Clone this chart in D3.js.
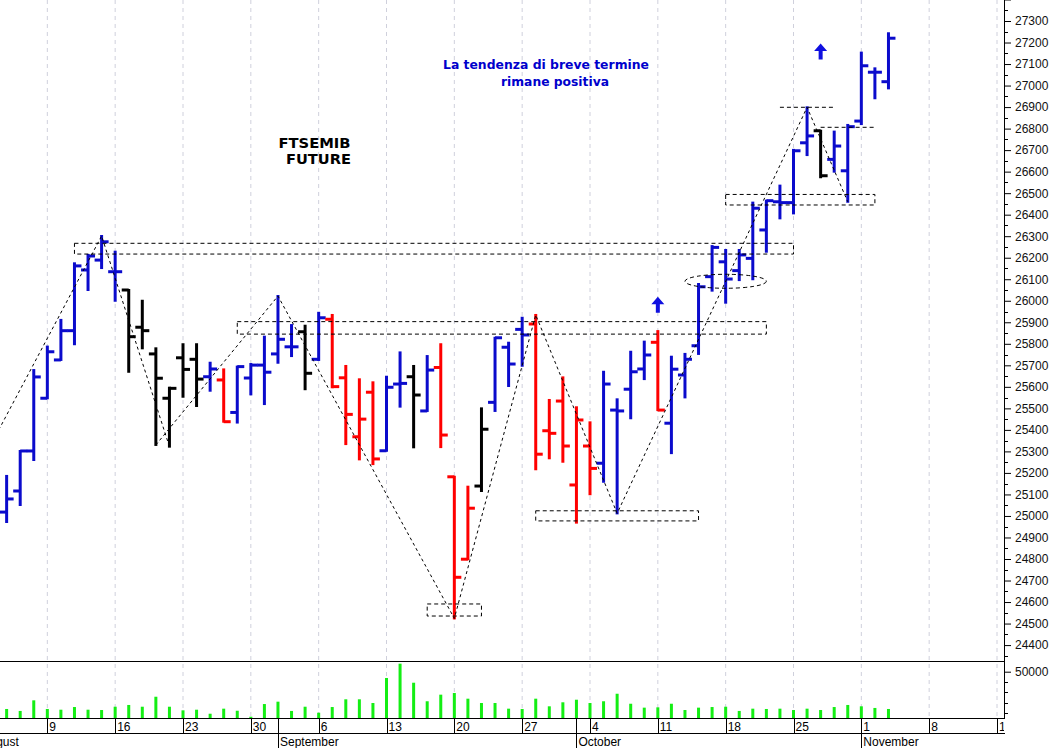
<!DOCTYPE html>
<html><head><meta charset="utf-8">
<script src="https://cdn.jsdelivr.net/npm/d3@7/dist/d3.min.js"></script>
<style>body{margin:0;background:#fff}svg{display:block}</style>
</head><body>
<svg id="c" width="1052" height="748"></svg>
<script>
// ---------------- DATA ----------------
const dates = [
"2021-08-04","2021-08-05","2021-08-06","2021-08-09","2021-08-10","2021-08-11","2021-08-12","2021-08-13",
"2021-08-16","2021-08-17","2021-08-18","2021-08-19","2021-08-20","2021-08-23","2021-08-24","2021-08-25",
"2021-08-26","2021-08-27","2021-08-30","2021-08-31","2021-09-01","2021-09-02","2021-09-03","2021-09-06",
"2021-09-07","2021-09-08","2021-09-09","2021-09-10","2021-09-13","2021-09-14","2021-09-15","2021-09-16",
"2021-09-17","2021-09-20","2021-09-21","2021-09-22","2021-09-23","2021-09-24","2021-09-27","2021-09-28",
"2021-09-29","2021-09-30","2021-10-01","2021-10-04","2021-10-05","2021-10-06","2021-10-07","2021-10-08",
"2021-10-11","2021-10-12","2021-10-13","2021-10-14","2021-10-15","2021-10-18","2021-10-19","2021-10-20",
"2021-10-21","2021-10-22","2021-10-25","2021-10-26","2021-10-27","2021-10-28","2021-10-29","2021-11-01",
"2021-11-02","2021-11-03"];
const open  = [25018,25116,25302,25547,25725,25861,26143,26189,26135,26050,25877,25753,25547,25735,25728,25647,
  25632,25481,25641,25701,25753,25786,25856,25728,25914,25642,25368,25575,25303,25613,25647,25488,25690,25182,
  24799,25139,25528,25784,25867,25892,25396,25534,25144,25325,25245,25492,25589,25683,25807,25431,25655,25791,
  26112,26181,26140,26197,26329,26460,26456,26734,26790,26657,26604,26835,27062,27018];
const high  = [25186,25302,25678,25787,25911,26174,26213,26301,26228,26050,26000,25779,25596,25798,25798,25712,
  25681,25694,25706,25833,26022,25887,25884,25944,25934,25697,25635,25621,25647,25760,25697,25743,25798,25182,
  25136,25500,25828,25805,25921,25934,25539,25644,25505,25435,25670,25542,25763,25810,25859,25740,25753,26078,
  26254,26236,26236,26456,26465,26535,26701,26899,26790,26786,26817,27153,27080,27243];
const low   = [24972,25051,25260,25547,25725,25798,26050,26152,26000,25670,25779,25330,25322,25554,25511,25582,
  25438,25434,25565,25520,25712,25743,25589,25725,25598,25334,25263,25241,25303,25508,25319,25488,25320,24524,
  24799,25116,25488,25604,25698,25217,25268,25252,24969,25101,25159,25012,25454,25636,25492,25292,25551,25753,
  26047,25991,26096,26100,26228,26383,26406,26677,26574,26600,26460,26821,26941,26987];
const close = [25079,25302,25646,25763,25861,26162,26208,26274,26135,25833,25861,25640,25593,25681,25636,25683,
  25438,25694,25701,25668,25821,25786,25663,25921,25601,25472,25450,25265,25598,25616,25562,25678,25376,24715,
  25036,25403,25828,25706,25841,25287,25384,25325,25446,25221,25613,25488,25670,25748,25492,25682,25728,26065,
  26248,26101,26213,26430,26465,26456,26697,26766,26581,26719,26809,27092,27062,27220];
// bar colour class: b = blue, r = red, k = black
const barClass = "bbbbbbbbbkkkkkkbrbbbbbkbrrrrbbkbrrrkbbbrrrrrbbbbrbbbbbbbbbbbkbbbbb".split("");
const volume = [13800,11900,22200,13800,13100,15700,13100,12800,16000,17700,16000,25700,16000,12500,13100,9200,
  14100,12100,6300,18600,20900,11900,16000,10200,15700,23200,23200,19600,43900,57800,39300,21300,27700,29300,
  23800,19600,19600,14100,13800,23800,16400,20300,22800,19600,21300,28600,18900,15100,15400,18900,12800,15100,
  15700,16000,11900,14100,13800,14100,12800,14100,12800,15700,17700,16400,14800,13800];
const priceTicks = d3.range(24400, 27401, 100);
const volumeTickLabels = [50000];
const dayTickStart = "2021-08-09";
const monthStarts = ["2021-08-02","2021-09-01","2021-10-01","2021-11-01"];
const monthNames = ["August","September","October","November"];
// annotations (date, price)
const zigzag1 = [["2021-08-03",25350],["2021-08-13",26301],["2021-08-20",25322]];
const zigzag2 = [["2021-08-19",25330],["2021-09-01",26022],["2021-09-20",24524],["2021-09-28",25934],
                 ["2021-10-06",25012],["2021-10-26",26899],["2021-10-29",26460]];
const boxes = [ // [fromDate, toDate, topPrice, bottomPrice]
  ["2021-08-11","2021-10-25",26267,26217],
  ["2021-08-27","2021-10-21",25903,25845],
  ["2021-09-16","2021-09-22",24591,24535],
  ["2021-09-28","2021-10-14",25024,24977],
  ["2021-10-18","2021-11-02",26494,26445]];
const hLines = [["2021-10-22","2021-10-28",26899],["2021-10-27","2021-11-02",26806]];
const ellipses = [["2021-10-13","2021-10-21",26123,26058]];
const arrows = [["2021-10-11",26019],["2021-10-27",27196]];
const texts1 = ["FTSEMIB","FUTURE"];
const texts2 = ["La tendenza di breve termine","rimane positiva"];

// ---------------- SCALES ----------------
const W = 1052, H = 748;
const plotRight = 1004, priceBottom = 661, volBottom = 718, dayRow = 733;
const parse = d3.timeParse("%Y-%m-%d");
const t0 = new Date(2021, 7, 2); // Monday
function dayIndex(s){ const d = typeof s === "string" ? parse(s) : s; const n = d3.timeDay.count(t0, d); return Math.floor(n/7)*5 + (n%7); }
const xs = d3.scaleLinear().domain([0, 75]).range([-20.5, 997.0]);
const X = s => xs(dayIndex(s));
const y = d3.scaleLinear().domain([24400, 27300]).range([645.08, 21]);
const yv = d3.scaleLinear().domain([0, 50000]).range([723.2, 671.7]);
const colors = {b:"#0b0bcc", r:"#ff0000", k:"#000000"};

const svg = d3.select("#c");
svg.append("rect").attr("width",W).attr("height",H).attr("fill","#fff");
const defs = svg.append("defs");
defs.append("clipPath").attr("id","cp").append("rect").attr("x",0).attr("y",0).attr("width",plotRight).attr("height",priceBottom);
defs.append("clipPath").attr("id","cv").append("rect").attr("x",0).attr("y",priceBottom).attr("width",plotRight).attr("height",volBottom-priceBottom);
defs.append("clipPath").attr("id","cx").append("rect").attr("x",0).attr("y",volBottom).attr("width",plotRight).attr("height",H-volBottom);

// grid (Mondays)
const mondays = d3.timeMonday.range(t0, new Date(2021,10,16));
svg.append("g").selectAll("line").data(mondays).join("line")
  .attr("x1", d=>xs(dayIndex(d))).attr("x2", d=>xs(dayIndex(d)))
  .attr("y1", 0).attr("y2", volBottom)
  .attr("stroke","#cfd0dc").attr("stroke-width",1).attr("stroke-dasharray","4,4");

// ---------------- PRICE PANEL ----------------
const gp = svg.append("g").attr("clip-path","url(#cp)");
const bars = dates.map((d,i)=>({d, o:open[i], h:high[i], l:low[i], c:close[i], k:barClass[i]}));
const bg = gp.append("g").selectAll("g").data(bars).join("g").attr("stroke", d=>colors[d.k]).attr("stroke-width",3);
bg.append("line").attr("x1",d=>X(d.d)).attr("x2",d=>X(d.d)).attr("y1",d=>y(d.h)-1).attr("y2",d=>y(d.l)+1);
bg.append("line").attr("x1",d=>X(d.d)-7).attr("x2",d=>X(d.d)).attr("y1",d=>y(d.o)).attr("y2",d=>y(d.o));
bg.append("line").attr("x1",d=>X(d.d)).attr("x2",d=>X(d.d)+7).attr("y1",d=>y(d.c)).attr("y2",d=>y(d.c));

// annotations
const ann = gp.append("g").attr("fill","none").attr("stroke","#000").attr("stroke-width",1);
const lineGen = d3.line().x(p=>X(p[0])).y(p=>y(p[1]));
[zigzag1, zigzag2].forEach(z=>ann.append("path").attr("d", lineGen(z)).attr("stroke-dasharray","3,3"));
ann.selectAll("rect.box").data(boxes).join("rect").attr("class","box")
  .attr("x", b=>X(b[0])).attr("y", b=>y(b[2])).attr("width", b=>X(b[1])-X(b[0])).attr("height", b=>y(b[3])-y(b[2]))
  .attr("stroke-dasharray","4,3");
ann.selectAll("line.hl").data(hLines).join("line").attr("class","hl")
  .attr("x1", b=>X(b[0])).attr("x2", b=>X(b[1])).attr("y1", b=>y(b[2])).attr("y2", b=>y(b[2]))
  .attr("stroke-dasharray","4,3");
ann.selectAll("ellipse").data(ellipses).join("ellipse")
  .attr("cx", e=>(X(e[0])+X(e[1]))/2).attr("cy", e=>(y(e[2])+y(e[3]))/2)
  .attr("rx", e=>(X(e[1])-X(e[0]))/2).attr("ry", e=>(y(e[3])-y(e[2]))/2)
  .attr("stroke-dasharray","4,3");
gp.append("g").selectAll("path").data(arrows).join("path")
  .attr("fill","#1010e0")
  .attr("d", a=>{ const cx = X(a[0]), ty = y(a[1]);
    return `M${cx},${ty} L${cx+6.5},${ty+7.5} L${cx+2},${ty+7.5} L${cx+2},${ty+16} L${cx-2},${ty+16} L${cx-2},${ty+7.5} L${cx-6.5},${ty+7.5} Z`; });

// texts
const tg = svg.append("g").attr("font-family","'DejaVu Sans', Verdana, sans-serif").attr("font-weight","bold");
tg.append("text").attr("x",278.5).attr("y",147.7).attr("font-size",14.5).attr("fill","#000")
  .attr("textLength",72).attr("lengthAdjust","spacingAndGlyphs").text(texts1[0]);
tg.append("text").attr("x",286).attr("y",164.3).attr("font-size",14.5).attr("fill","#000")
  .attr("textLength",65).attr("lengthAdjust","spacingAndGlyphs").text(texts1[1]);
tg.append("text").attr("x",443).attr("y",69).attr("font-size",12.4).attr("fill","#0000cc")
  .attr("textLength",206).attr("lengthAdjust","spacingAndGlyphs").text(texts2[0]);
tg.append("text").attr("x",501).attr("y",85.5).attr("font-size",12.4).attr("fill","#0000cc")
  .attr("textLength",108).attr("lengthAdjust","spacingAndGlyphs").text(texts2[1]);

// ---------------- VOLUME PANEL ----------------
const gv = svg.append("g").attr("clip-path","url(#cv)");
gv.selectAll("rect").data(dates).join("rect")
  .attr("x", (d)=>X(d)-1.5).attr("width",3)
  .attr("y", (d,i)=>yv(volume[i])).attr("height",(d,i)=>volBottom - yv(volume[i]))
  .attr("fill","#14ee14");

// ---------------- AXES / FRAME ----------------
const frame = svg.append("g").attr("stroke","#000").attr("stroke-width",1);
frame.append("line").attr("x1",plotRight+0.5).attr("x2",plotRight+0.5).attr("y1",0).attr("y2",volBottom);
frame.append("line").attr("x1",0).attr("x2",plotRight+1).attr("y1",priceBottom+0.5).attr("y2",priceBottom+0.5);
frame.append("line").attr("x1",0).attr("x2",plotRight+1).attr("y1",volBottom+0.5).attr("y2",volBottom+0.5);
frame.append("line").attr("x1",0).attr("x2",plotRight+1).attr("y1",dayRow+0.5).attr("y2",dayRow+0.5);

// price axis: major + minor ticks
const pa = svg.append("g").attr("transform",`translate(${plotRight+0.5},0)`)
  .call(d3.axisRight(y).tickValues(priceTicks).tickSize(6.5).tickPadding(4).tickFormat(d3.format("d")));
pa.select(".domain").remove();
pa.selectAll("text").attr("font-family","Arial, 'Liberation Sans', sans-serif").attr("font-size",12).attr("fill","#111")
  .attr("opacity", d=> d>27300 ? 0 : 1);
svg.append("g").selectAll("line").data(priceTicks.slice(0,-1).map(v=>v+50).concat([24350])).join("line")
  .attr("x1",plotRight+0.5).attr("x2",plotRight+4).attr("y1",d=>Math.round(y(d))+0.5).attr("y2",d=>Math.round(y(d))+0.5)
  .attr("stroke","#000").filter(d=>y(d)>priceBottom).remove();

// volume axis
const va = svg.append("g").attr("transform",`translate(${plotRight+0.5},0)`)
  .call(d3.axisRight(yv).tickValues(volumeTickLabels).tickSize(6.5).tickPadding(4).tickFormat(d3.format("d")));
va.select(".domain").remove();
va.selectAll("text").attr("font-family","Arial, 'Liberation Sans', sans-serif").attr("font-size",12).attr("fill","#111");
svg.append("g").selectAll("line").data([10000,20000,30000,40000]).join("line")
  .attr("x1",plotRight+0.5).attr("x2",plotRight+4).attr("y1",d=>Math.round(yv(d))+0.5).attr("y2",d=>Math.round(yv(d))+0.5)
  .attr("stroke","#000");

// date axis
const gx = svg.append("g").attr("clip-path","url(#cx)");
const dayTicks = mondays.filter(d => d >= parse(dayTickStart));
gx.selectAll("line.dt").data(dayTicks).join("line").attr("class","dt")
  .attr("x1",d=>Math.round(xs(dayIndex(d)))+0.5).attr("x2",d=>Math.round(xs(dayIndex(d)))+0.5)
  .attr("y1",volBottom).attr("y2",dayRow).attr("stroke","#000");
gx.selectAll("text.dt").data(dayTicks).join("text").attr("class","dt")
  .attr("x",d=>xs(dayIndex(d))+2).attr("y",731)
  .attr("font-family","Arial, 'Liberation Sans', sans-serif").attr("font-size",12).attr("fill","#000")
  .text(d=>d.getDate());
gx.selectAll("line.mt").data(monthStarts).join("line").attr("class","mt")
  .attr("x1",d=>Math.round(X(d))+0.5).attr("x2",d=>Math.round(X(d))+0.5)
  .attr("y1",volBottom).attr("y2",H).attr("stroke","#000");
gx.selectAll("text.mt").data(monthStarts).join("text").attr("class","mt")
  .attr("x",d=>X(d)+2).attr("y",746)
  .attr("font-family","Arial, 'Liberation Sans', sans-serif").attr("font-size",12).attr("fill","#000")
  .text((d,i)=>monthNames[i]);
</script>
</body></html>
